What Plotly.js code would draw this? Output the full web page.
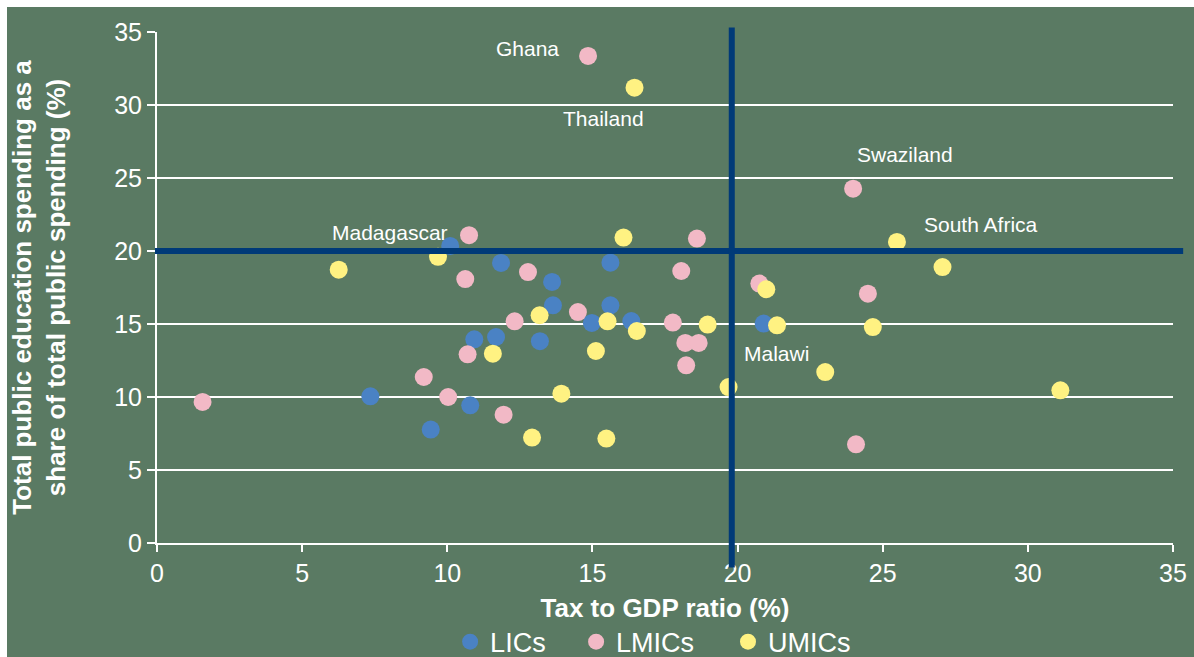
<!DOCTYPE html>
<html>
<head>
<meta charset="utf-8">
<script src="https://cdn.plot.ly/plotly-3.0.1.min.js"></script>
<style>
  html, body { margin: 0; padding: 0; background: #5a7a63; width: 1194px; height: 657px; overflow: hidden; }
  #chart { position: absolute; left: 7px; top: 7px; width: 1187px; height: 650px; }
  #stripTop { position: absolute; left: 0; top: 0; width: 1194px; height: 7px; background: #ffffff; }
  #stripLeft { position: absolute; left: 0; top: 0; width: 7px; height: 657px; background: #ffffff; }
</style>
</head>
<body>
<div id="stripTop"></div>
<div id="stripLeft"></div>
<div id="chart"></div>
<script>
// ---- Data ----
const seriesNames = ["LICs", "LMICs", "UMICs"];

const licX = [10.1, 7.35, 9.43, 10.79, 11.85, 13.61, 13.64, 15.62, 15.62, 14.98, 16.34, 10.93, 11.68, 13.19, 20.9];
const licY = [20.35, 10.05, 7.77, 9.43, 19.18, 17.88, 16.28, 19.2, 16.28, 15.07, 15.2, 13.95, 14.11, 13.82, 15.03];

const lmicX = [1.57, 9.19, 10.03, 10.62, 10.75, 10.7, 12.78, 12.32, 11.94, 14.5, 18.6, 18.06, 17.77, 18.2, 18.66, 18.23, 14.85, 23.98, 20.75, 24.49, 24.08];
const lmicY = [9.66, 11.37, 10.0, 18.08, 21.08, 12.92, 18.56, 15.18, 8.79, 15.82, 20.85, 18.63, 15.1, 13.7, 13.7, 12.17, 33.36, 24.27, 17.77, 17.08, 6.76];

const umicX = [6.26, 9.68, 16.45, 16.07, 13.18, 15.52, 16.53, 11.57, 15.12, 13.93, 18.97, 19.69, 12.92, 15.48, 25.49, 27.06, 20.99, 21.36, 24.66, 23.02, 31.12];
const umicY = [18.72, 19.6, 31.19, 20.92, 15.6, 15.18, 14.52, 12.97, 13.15, 10.23, 14.96, 10.68, 7.22, 7.15, 20.62, 18.9, 17.38, 14.91, 14.79, 11.71, 10.46];

// Country labels
const labelText = ["Ghana", "Thailand", "Swaziland", "South Africa", "Madagascar", "Malawi"];
const labelX = [12.76, 15.37, 25.78, 28.39, 8.03, 21.33];
const labelY = [33.85, 29.05, 26.62, 21.79, 21.28, 12.96];

// Reference (threshold) lines
const taxThreshold = 19.8;
const eduThreshold = 20;

// Axis ticks
const tickVals = [0, 5, 10, 15, 20, 25, 30, 35];
const tickText = ["0", "5", "10", "15", "20", "25", "30", "35"];

// ---- Styling ----
const colors = ["#4a82c4", "#f2b9c6", "#fff282"];
const bg = "#5a7a63";
const navy = "#003a78";
const FONT = "Liberation Sans, Arial, sans-serif";

const xs = [licX, lmicX, umicX];
const ys = [licY, lmicY, umicY];
const legendIds = ["legend", "legend2", "legend3"];

const traces = seriesNames.map((name, i) => ({
  type: "scatter",
  mode: "markers",
  name: name,
  x: xs[i],
  y: ys[i],
  legend: legendIds[i],
  marker: { size: 18, color: colors[i], line: { width: 0 } },
  hoverinfo: "x+y+name"
}));

const legendBase = {
  orientation: "h",
  yanchor: "middle",
  xanchor: "left",
  y: -0.194,
  bgcolor: "rgba(0,0,0,0)",
  borderwidth: 0,
  font: { family: FONT, size: 27, color: "#ffffff" },
  itemsizing: "trace"
};

const annotations = labelText.map((t, i) => ({
  x: labelX[i],
  y: labelY[i],
  xref: "x",
  yref: "y",
  text: t,
  showarrow: false,
  xanchor: "center",
  yanchor: "middle",
  font: { family: FONT, size: 21, color: "#ffffff" }
}));

const layout = {
  width: 1187,
  height: 650,
  paper_bgcolor: bg,
  plot_bgcolor: bg,
  margin: { l: 150, r: 21, t: 25, b: 114, autoexpand: false },
  font: { family: FONT, color: "#ffffff" },
  showlegend: true,
  legend: Object.assign({}, legendBase, { x: 0.2885 }),
  legend2: Object.assign({}, legendBase, { x: 0.4125 }),
  legend3: Object.assign({}, legendBase, { x: 0.5620 }),
  xaxis: {
    range: [0, 35],
    tickvals: tickVals,
    ticktext: tickText,
    showgrid: false,
    zeroline: false,
    showline: true,
    linecolor: "#ffffff",
    linewidth: 2,
    ticks: "outside",
    ticklen: 7,
    tickwidth: 2,
    tickcolor: "#ffffff",
    tickfont: { family: FONT, size: 25, color: "#ffffff" },
    title: {
      text: "<b>Tax to GDP ratio (%)</b>",
      font: { family: FONT, size: 26, color: "#ffffff" },
      standoff: 13
    },
    automargin: false,
    fixedrange: true
  },
  yaxis: {
    range: [0, 35],
    tickvals: tickVals,
    ticktext: tickText,
    showgrid: true,
    gridcolor: "#ffffff",
    gridwidth: 2,
    zeroline: false,
    showline: true,
    linecolor: "#ffffff",
    linewidth: 2,
    ticks: "outside",
    ticklen: 8,
    tickwidth: 2,
    tickcolor: "#ffffff",
    tickfont: { family: FONT, size: 25, color: "#ffffff" },
    title: {
      text: "<b>Total public education spending as a<br>share of total public spending (%)</b>",
      font: { family: FONT, size: 26, color: "#ffffff" },
      standoff: 42
    },
    automargin: false,
    fixedrange: true
  },
  shapes: [
    {
      type: "line", layer: "above",
      xref: "paper", yref: "y",
      x0: -0.002, x1: 1.010, y0: eduThreshold, y1: eduThreshold,
      line: { color: navy, width: 6 }
    },
    {
      type: "line", layer: "above",
      xref: "x", yref: "paper",
      x0: taxThreshold, x1: taxThreshold, y0: -0.048, y1: 1.009,
      line: { color: navy, width: 6 }
    }
  ],
  annotations: annotations
};

Plotly.newPlot("chart", traces, layout, { displayModeBar: false, staticPlot: true });
</script>
</body>
</html>
